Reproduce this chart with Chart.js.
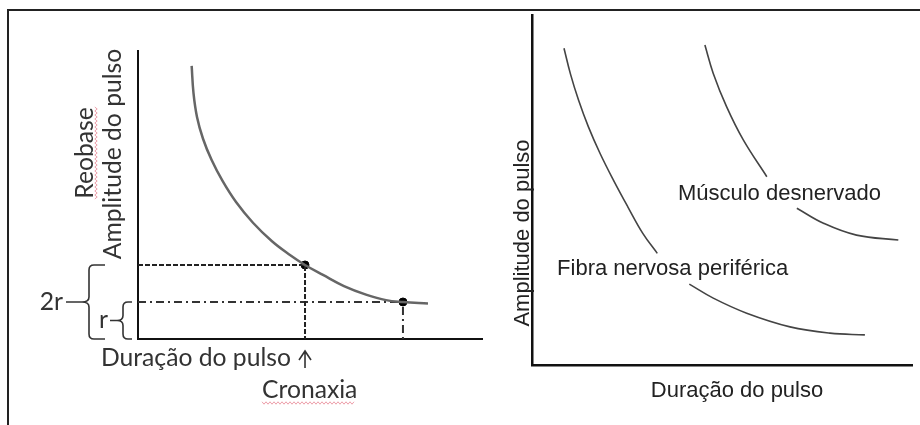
<!DOCTYPE html>
<html>
<head>
<meta charset="utf-8">
<script src="https://cdn.jsdelivr.net/npm/chart.js@4"></script>
<style>
html, body { margin: 0; padding: 0; background: #fff; }
#wrap { position: relative; width: 920px; height: 425px; }
canvas { position: absolute; left: 0; top: 0; }
</style>
</head>
<body>
<div id="wrap">
	<canvas id="leftChart" width="920" height="425"></canvas>
	<canvas id="rightChart" width="920" height="425"></canvas>
</div>
<script>
// left panel: strength-duration curve
const leftDur = [0.624, 0.645, 0.686, 0.756, 0.855, 0.983, 1.140, 1.337, 1.558, 1.767, 1.942, 2.151, 2.395, 2.651, 2.884, 3.081, 3.372];
const leftAmp = [7.38, 6.65, 6.00, 5.41, 4.84, 4.27, 3.70, 3.14, 2.64, 2.27, 2.0, 1.73, 1.43, 1.20, 1.05, 1.0, 0.96];
const rheobase = 1;
const chronaxie = 1.942;
const rheoDur = 3.081;

// right panel: two curves (null = gap where the label sits)
const fibraDur = [0.842, 1.013, 1.224, 1.482, 1.789, 2.139, 2.521, 2.916, 3.297, 3.70, 4.14, 4.77, 5.65, 6.79, 7.84, 8.76];
const fibraAmp = [9.05, 8.31, 7.57, 6.81, 6.05, 5.29, 4.52, 3.76, 3.19, null, 2.31, 1.91, 1.48, 1.09, 0.91, 0.86];
const musculoDur = [4.55, 4.77, 5.12, 5.56, 6.18, 6.55, 6.97, 7.67, 8.54, 9.64];
const musculoAmp = [9.14, 8.33, 7.38, 6.43, 5.38, null, 4.48, 4.05, 3.71, 3.57];

const leftFont = "Lato, 'Open Sans', sans-serif";
const rightFont = "'Liberation Sans', Arial, sans-serif";

const toXY = (xs, ys) => xs.map((x, i) => ({ x, y: ys[i] }));

function axes(xmax, ymax, bw) {
	const common = () => ({
		type: "linear",
		grid: { display: false, drawTicks: false },
		ticks: { display: false },
		border: { display: true, color: "#111", width: bw }
	});
	return {
		x: { ...common(), min: 0, max: xmax, afterFit: s => { s.height = 0; } },
		y: { ...common(), min: 0, max: ymax, afterFit: s => { s.width = 0; } }
	};
}

function brace(ctx, xv, xhook, xtip, top, bottom) {
	const mid = (top + bottom) / 2;
	ctx.beginPath();
	ctx.moveTo(xhook, top);
	ctx.lineTo(xv + 5, top);
	ctx.quadraticCurveTo(xv, top, xv, top + 5);
	ctx.lineTo(xv, mid - 5);
	ctx.quadraticCurveTo(xv, mid, xtip, mid);
	ctx.quadraticCurveTo(xv, mid, xv, mid + 5);
	ctx.lineTo(xv, bottom - 5);
	ctx.quadraticCurveTo(xv, bottom, xv + 5, bottom);
	ctx.lineTo(xhook, bottom);
	ctx.stroke();
	return mid;
}

function wavy(ctx, x0, y0, len, vertical) {
	ctx.beginPath();
	for (let t = 0; t <= len; t += 2) {
		const off = (t / 2) % 2 ? 1.2 : -1.2;
		const px = vertical ? x0 + off : x0 + t;
		const py = vertical ? y0 + t : y0 + off;
		t === 0 ? ctx.moveTo(px, py) : ctx.lineTo(px, py);
	}
	ctx.stroke();
}

const leftDecor = {
	id: "leftDecor",
	afterDraw(chart) {
		const { ctx, chartArea: a, scales: { x, y } } = chart;
		const y0 = y.getPixelForValue(0);
		const y1 = y.getPixelForValue(rheobase);
		const y2 = y.getPixelForValue(2 * rheobase);
		const xc = x.getPixelForValue(chronaxie);
		ctx.save();

		// frame
		ctx.strokeStyle = "#222";
		ctx.lineWidth = 2;
		ctx.beginPath();
		ctx.moveTo(8, 425); ctx.lineTo(8, 10); ctx.lineTo(920, 10);
		ctx.stroke();

		// braces
		ctx.lineWidth = 1.6;
		ctx.strokeStyle = "#333";
		const m2 = brace(ctx, a.left - 49, a.left - 33, a.left - 56, y2, y0);
		const m1 = brace(ctx, a.left - 15, a.left - 6, a.left - 21, y1, y0);
		ctx.beginPath();
		ctx.moveTo(a.left - 72, m2); ctx.lineTo(a.left - 56, m2);
		ctx.moveTo(a.left - 28, m1); ctx.lineTo(a.left - 21, m1);
		ctx.stroke();

		// arrow under chronaxie
		ctx.lineWidth = 1.6;
		ctx.beginPath();
		ctx.moveTo(xc, y0 + 29); ctx.lineTo(xc, y0 + 12);
		ctx.moveTo(xc - 6, y0 + 21); ctx.lineTo(xc, y0 + 12); ctx.lineTo(xc + 6, y0 + 21);
		ctx.stroke();

		// texts
		ctx.fillStyle = "#333";
		ctx.font = "100px " + leftFont;
		const size = 100 * 190 / ctx.measureText("Duração do pulso").width;
		ctx.font = size + "px " + leftFont;
		ctx.textBaseline = "alphabetic";
		ctx.textAlign = "left";
		ctx.fillText("Duração do pulso", 101, y0 + 27);
		ctx.fillText("Cronaxia", xc - 43, y0 + 59);
		ctx.textBaseline = "middle";
		ctx.textAlign = "right";
		ctx.fillText("2r", a.left - 75, m2);
		ctx.fillText("r", a.left - 30, m1);

		ctx.save();
		ctx.translate(a.left - 17, (45 + 263) / 2);
		ctx.rotate(-Math.PI / 2);
		ctx.textAlign = "center";
		ctx.textBaseline = "alphabetic";
		ctx.fillText("Amplitude do pulso", 0, 0);
		ctx.restore();

		ctx.save();
		ctx.translate(a.left - 45, 153);
		ctx.rotate(-Math.PI / 2);
		ctx.textAlign = "center";
		ctx.textBaseline = "alphabetic";
		ctx.fillText("Reobase", 0, 0);
		ctx.restore();

		// spell-check squiggles
		ctx.strokeStyle = "rgba(220,80,100,0.55)";
		ctx.lineWidth = 1;
		wavy(ctx, xc - 43, y0 + 64, 92, false);
		wavy(ctx, a.left - 42, 107, 93, true);
		ctx.restore();
	}
};

new Chart(document.getElementById("leftChart"), {
	type: "scatter",
	data: {
		datasets: [
			{
				data: toXY(leftDur, leftAmp),
				showLine: true,
				borderColor: "#666",
				borderWidth: 2.5,
				pointRadius: 0,
				tension: 0.4
			},
			{
				data: [{ x: 0, y: 2 * rheobase }, { x: chronaxie, y: 2 * rheobase }, { x: chronaxie, y: 0 }],
				showLine: true,
				borderColor: "#222",
				borderWidth: 2,
				borderDash: [5, 2],
				pointRadius: 0
			},
			{
				data: [{ x: 0, y: rheobase }, { x: rheoDur, y: rheobase }, { x: rheoDur, y: 0 }],
				showLine: true,
				borderColor: "#333",
				borderWidth: 2,
				borderDash: [8, 4, 2, 4],
				pointRadius: 0
			},
			{
				data: [{ x: chronaxie, y: 2 * rheobase }, { x: rheoDur, y: rheobase }],
				backgroundColor: "#000",
				borderColor: "#000",
				pointRadius: 4
			}
		]
	},
	options: {
		responsive: false,
		animation: false,
		layout: { padding: { left: 138, right: 438, top: 51, bottom: 86 } },
		plugins: { legend: { display: false }, tooltip: { enabled: false } },
		scales: axes(4, 7.78, 2)
	},
	plugins: [leftDecor]
});

const rightDecor = {
	id: "rightDecor",
	afterDraw(chart) {
		const { ctx, chartArea: a, scales: { x, y } } = chart;
		ctx.save();
		ctx.fillStyle = "#222";
		ctx.font = "22px " + rightFont;
		ctx.textBaseline = "alphabetic";
		ctx.textAlign = "left";
		ctx.fillText("Músculo desnervado", x.getPixelForValue(3.84), y.getPixelForValue(4.71));
		ctx.fillText("Fibra nervosa periférica", x.getPixelForValue(0.66), y.getPixelForValue(2.57));
		ctx.textAlign = "center";
		ctx.fillText("Duração do pulso", 737, a.bottom + 32);
		ctx.translate(a.left - 3, 233);
		ctx.rotate(-Math.PI / 2);
		ctx.fillText("Amplitude do pulso", 0, 0);
		ctx.restore();
	}
};

new Chart(document.getElementById("rightChart"), {
	type: "scatter",
	data: {
		datasets: [
			{
				label: "Fibra nervosa periférica",
				data: toXY(fibraDur, fibraAmp),
				showLine: true,
				spanGaps: false,
				borderColor: "#444",
				borderWidth: 1.6,
				pointRadius: 0,
				tension: 0.4
			},
			{
				label: "Músculo desnervado",
				data: toXY(musculoDur, musculoAmp),
				showLine: true,
				spanGaps: false,
				borderColor: "#444",
				borderWidth: 1.6,
				pointRadius: 0,
				tension: 0.4
			}
		]
	},
	options: {
		responsive: false,
		animation: false,
		layout: { padding: { left: 532, right: 8, top: 15, bottom: 60 } },
		plugins: { legend: { display: false }, tooltip: { enabled: false } },
		scales: axes(10, 10, 2.5)
	},
	plugins: [rightDecor]
});
</script>
</body>
</html>
